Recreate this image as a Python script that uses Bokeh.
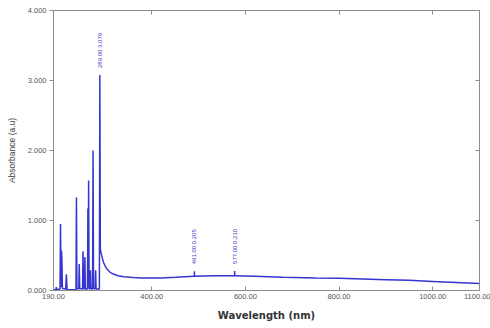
from bokeh.plotting import figure
from bokeh.models import (LinearAxis, FixedTicker, PrintfTickFormatter, Range1d,
                          ColumnDataSource)
from bokeh.core.properties import value
from bokeh.embed import file_html
from bokeh.resources import INLINE

# Spectrum
wavelength = [190, 195, 196, 197, 204, 205, 206, 207, 208, 209, 216, 217.5, 219,
              238, 239, 240, 244, 245, 246, 252, 253, 254, 256, 257, 258,
              262.5, 263.5, 264.3, 265, 266, 268, 269, 270, 273.5, 274.5, 275.5,
              279, 280, 281, 288, 289, 290, 291, 294, 297, 301, 305, 311, 318,
              328, 340, 360, 380, 420, 450, 490, 530, 577, 620, 680, 750, 800,
              850, 900, 950, 1000, 1050, 1100]
absorbance = [0.01, 0.01, 0.05, 0.01, 0.02, 0.95, 0.05, 0.57, 0.45, 0.03, 0.02, 0.23, 0.01,
              0.01, 1.33, 0.03, 0.02, 0.38, 0.03, 0.02, 0.56, 0.03, 0.02, 0.48, 0.02,
              0.02, 1.17, 0.05, 1.57, 0.03, 0.02, 0.29, 0.02, 0.02, 2.00, 0.03,
              0.02, 0.29, 0.02, 0.02, 3.079, 0.60, 0.55, 0.47, 0.40, 0.34, 0.30, 0.26, 0.235,
              0.21, 0.195, 0.185, 0.18, 0.18, 0.19, 0.205, 0.21, 0.21, 0.205, 0.19, 0.18, 0.175,
              0.165, 0.155, 0.145, 0.13, 0.115, 0.10]

# Peak annotations
peak_wl = [289.0, 491.0, 577.0]
peak_abs = [3.079, 0.205, 0.210]
peak_text = ["289.00 3.079", "491.00 0.205", "577.00 0.210"]

x_ticks = [190, 400, 600, 800, 1000, 1100]
y_ticks = [0, 1, 2, 3, 4]

LINE = "#3535d0"
AX = "#8c8c8c"
TXT = "#555555"
FONT = "Liberation Sans"

p = figure(width=490, height=328, output_backend="svg", toolbar_location=None,
           x_range=Range1d(190, 1100), y_range=Range1d(0, 4),
           min_border_left=53, min_border_right=11, min_border_top=10,
           min_border_bottom=38, x_axis_location=None, y_axis_location=None)
p.background_fill_color = "white"
p.border_fill_color = "white"
p.outline_line_color = AX
p.xgrid.visible = False
p.ygrid.visible = False

def style(ax, show_labels, tin, tout):
    ax.axis_line_color = AX
    ax.major_tick_line_color = AX
    ax.minor_tick_line_color = None
    ax.major_tick_in = tin
    ax.major_tick_out = tout
    ax.major_label_text_font = FONT
    ax.major_label_text_color = TXT
    if show_labels:
        ax.major_label_text_font_size = "7.5px"
        ax.major_label_standoff = 3
    else:
        ax.major_label_text_font_size = "0px"
        ax.major_label_standoff = 0
        ax.major_label_text_alpha = 0

xb = LinearAxis(ticker=FixedTicker(ticks=x_ticks),
                formatter=PrintfTickFormatter(format="%.2f"))
style(xb, True, 4, 0)
xb.axis_label = "Wavelength (nm)"
xb.axis_label_text_font = "DejaVu Sans"
xb.axis_label_text_font_style = "bold"
xb.axis_label_text_font_size = "10px"
xb.axis_label_text_color = "#333333"
xb.axis_label_standoff = 8
p.add_layout(xb, "below")

yl = LinearAxis(ticker=FixedTicker(ticks=y_ticks),
                formatter=PrintfTickFormatter(format="%.3f"))
style(yl, True, 0, 4)
yl.axis_label = "Absorbance (a.u)"
yl.axis_label_text_font = FONT
yl.axis_label_text_font_style = "normal"
yl.axis_label_text_font_size = "8.5px"
yl.axis_label_text_color = "#444444"
yl.axis_label_standoff = 8
p.add_layout(yl, "left")

xt = LinearAxis(ticker=FixedTicker(ticks=x_ticks))
style(xt, False, 4, 0)
p.add_layout(xt, "above")

yr = LinearAxis(ticker=FixedTicker(ticks=y_ticks))
style(yr, False, 4, 0)
p.add_layout(yr, "right")

p.line(wavelength, absorbance, line_color=LINE, line_width=1.5)

# small markers above the secondary peaks
mk_x = peak_wl[1:]
mk_y0 = peak_abs[1:]
mk_y1 = [v + 0.07 for v in mk_y0]
p.segment(x0=mk_x, y0=mk_y0, x1=mk_x, y1=mk_y1, line_color=LINE, line_width=1.5)

lab_y = [v + 0.1 if i == 0 else v + 0.17 for i, v in enumerate(peak_abs)]
src = ColumnDataSource(dict(x=peak_wl, y=lab_y, t=peak_text))
p.text(x="x", y="y", text="t", source=src, angle=1.5708, text_align="left",
       text_baseline="middle", text_font=value(FONT), text_font_size="6px",
       text_color="#4040c8")

open("out.html", "w").write(file_html(p, INLINE))
